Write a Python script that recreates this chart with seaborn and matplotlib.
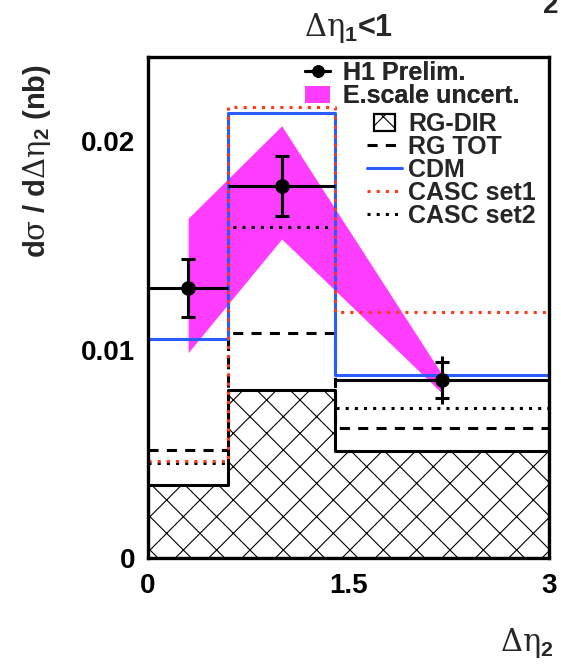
import matplotlib
matplotlib.use("Agg")
import matplotlib.pyplot as plt
import seaborn as sns
from matplotlib.lines import Line2D
from matplotlib.patches import Patch, Rectangle
from matplotlib.legend_handler import HandlerPatch

# ==========================================
# --- DANE ---
# ==========================================
BIN_EDGES = [0.0, 0.6, 1.4, 3.0]
BIN_CENTERS = [0.3, 1.0, 2.2]
BIN_HALF_WIDTHS = [0.3, 0.4, 0.8]

H1_VALUES = [0.01295, 0.01784, 0.00854]
H1_STAT_ERR = [0.00140, 0.00144, 0.00088]
H1_TOT_ERR = [0.00140, 0.00144, 0.00115]

BAND_LOW = [0.00985, 0.01530, 0.00790]
BAND_HIGH = [0.01629, 0.02073, 0.00880]

RG_DIR = [0.00350, 0.00806, 0.00515]
RG_TOT = [0.00518, 0.01078, 0.00622]
CDM = [0.01049, 0.02133, 0.00878]
CASC_SET1 = [0.00465, 0.02165, 0.01181]
CASC_SET2 = [0.00454, 0.01589, 0.00718]

X_TICKS = [0, 1.5, 3]
X_TICK_LABELS = ["0", "1.5", "3"]
Y_TICKS = [0, 0.01, 0.02]
Y_TICK_LABELS = ["0", "0.01", "0.02"]

# ==========================================
# --- KONFIGURACJA ---
# ==========================================
W_PX, H_PX, DPI = 561, 665, 100
MAGENTA = "#ff3dff"
BLUE = "#2a5cff"
RED = "#ff3a1a"
LW = 2.2
FONT_SIZE = 20
LEGEND_SIZE = 18

sns.set_style("white")
plt.rcParams["font.family"] = ["Liberation Sans", "DejaVu Sans"]
plt.rcParams["mathtext.fontset"] = "custom"
plt.rcParams["mathtext.rm"] = "DejaVu Serif:weight=normal"
plt.rcParams["mathtext.it"] = "DejaVu Serif:weight=normal"
plt.rcParams["mathtext.bf"] = "Liberation Sans:bold"
plt.rcParams["hatch.linewidth"] = 0.8
plt.rcParams["hatch.color"] = "black"


def fx(px):
    return px / W_PX


def fy(px):
    return 1 - px / H_PX


def step_hist(ax, values, **kw):
    sns.histplot(x=BIN_CENTERS, weights=values, bins=BIN_EDGES,
                 element="step", ax=ax, **kw)


def narrow_box(legend, orig_handle, xdescent, ydescent, width, height, fontsize):
    w = width * 0.6
    return Rectangle((-xdescent + (width - w) / 2, -ydescent), w, height)


def main():
    fig = plt.figure(figsize=(W_PX / DPI, H_PX / DPI), dpi=DPI)
    ax = fig.add_axes([fx(148), fy(558), fx(549) - fx(148), fy(57) - fy(558)])

    # RG-DIR - zakreskowany histogram
    step_hist(ax, RG_DIR, fill=True, facecolor="white", edgecolor="black",
              hatch="x", linewidth=LW, alpha=1, zorder=1)

    # pasmo niepewności skali energii
    ax.fill_between(BIN_CENTERS, BAND_LOW, BAND_HIGH, color=MAGENTA,
                    linewidth=0, zorder=2)

    # modele
    step_hist(ax, RG_TOT, fill=False, color="black", linewidth=LW,
              linestyle=(0, (3.3, 2.7)), zorder=3)
    step_hist(ax, CASC_SET2, fill=False, color="black", linewidth=LW,
              linestyle=(0, (1, 2)), zorder=3)
    step_hist(ax, CDM, fill=False, color=BLUE, linewidth=LW, zorder=4)
    step_hist(ax, CASC_SET1, fill=False, color=RED, linewidth=LW,
              linestyle=(0, (1, 2)), zorder=4)

    # dane H1
    ax.errorbar(BIN_CENTERS, H1_VALUES, yerr=H1_TOT_ERR, fmt="none",
                ecolor="black", elinewidth=LW, zorder=6)
    ax.errorbar(BIN_CENTERS, H1_VALUES, yerr=H1_STAT_ERR, fmt="none",
                ecolor="black", elinewidth=LW, capsize=5, capthick=LW, zorder=6)
    ax.errorbar(BIN_CENTERS, H1_VALUES, xerr=BIN_HALF_WIDTHS, fmt="o",
                color="black", markersize=9.5, elinewidth=LW, zorder=7)

    ax.set_xlim(0, 3)
    ax.set_ylim(0, 0.02403)
    ax.set_xlabel("")
    ax.set_ylabel("")
    ax.set_xticks(X_TICKS, X_TICK_LABELS)
    ax.set_yticks(Y_TICKS, Y_TICK_LABELS)
    ax.tick_params(direction="in", length=14, width=1.0, labelsize=FONT_SIZE,
                   colors="black")
    ax.tick_params(axis="x", pad=11)
    ax.tick_params(axis="y", pad=9)
    for lab in ax.get_xticklabels() + ax.get_yticklabels():
        lab.set_fontweight("bold")
    for sp in ax.spines.values():
        sp.set_visible(True)
        sp.set_color("black")
        sp.set_linewidth(2.4)
        sp.set_zorder(10)

    # legendy
    h1_handles = [
        Line2D([], [], color="black", lw=LW, marker="o", markersize=8),
        Patch(facecolor=MAGENTA, edgecolor="none"),
    ]
    leg1 = fig.legend(h1_handles, ["H1 Prelim.", "E.scale uncert."],
                      loc="upper left", bbox_to_anchor=(fx(305), fy(61)),
                      frameon=False, borderpad=0, borderaxespad=0,
                      handlelength=1.0, handletextpad=0.52,
                      labelspacing=-0.03,
                      prop={"size": LEGEND_SIZE, "weight": "bold"})

    model_handles = [
        Patch(facecolor="white", edgecolor="black", hatch="x", linewidth=1.6),
        Line2D([], [], color="black", lw=LW, linestyle=(0, (3.3, 2.7))),
        Line2D([], [], color=BLUE, lw=LW),
        Line2D([], [], color=RED, lw=LW, linestyle=(0, (1, 2))),
        Line2D([], [], color="black", lw=LW, linestyle=(0, (1, 2))),
    ]
    fig.legend(model_handles, ["RG-DIR", "RG TOT", "CDM", "CASC set1", "CASC set2"],
               loc="upper left", bbox_to_anchor=(fx(367), fy(112)),
               frameon=False, borderpad=0, borderaxespad=0,
               handlelength=1.4, handletextpad=0.24, labelspacing=-0.04,
               handler_map={Patch: HandlerPatch(patch_func=narrow_box)},
               prop={"size": LEGEND_SIZE, "weight": "bold"})
    fig.add_artist(leg1)

    # opisy
    fig.text(fx(348.5), fy(28), r"$\Delta\eta_{\mathbf{1}}$<1", ha="center",
             va="center", fontsize=22, fontweight="bold")
    fig.text(fx(37), fy(64), r"d$\sigma$ / d$\Delta\eta_{\mathbf{2}}$ (nb)",
             rotation=90, ha="center", va="top", fontsize=21,
             fontweight="bold")
    fig.text(fx(553), fy(643), r"$\Delta\eta_{\mathbf{2}}$", ha="right",
             va="center", fontsize=22)
    fig.text(fx(543), fy(13), "2", ha="left", va="baseline",
             fontsize=FONT_SIZE, fontweight="bold")

    fig.savefig("out.png", dpi=DPI)
    plt.close(fig)


if __name__ == "__main__":
    main()
